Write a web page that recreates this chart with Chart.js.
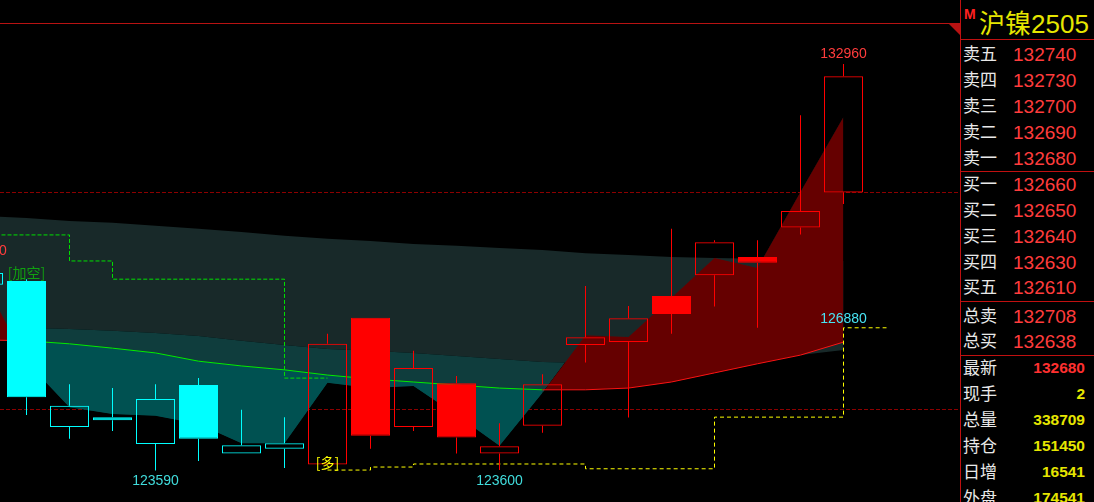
<!DOCTYPE html>
<html>
<head>
<meta charset="utf-8">
<script src="https://cdn.jsdelivr.net/npm/chart.js@4.4.1/dist/chart.umd.min.js"></script>
<style>
html, body { margin: 0; padding: 0; background: #000; }
#wrap { position: relative; width: 1094px; height: 502px; overflow: hidden; background: #000; }
#c { position: absolute; left: 0; top: 0; }
#panel { position: absolute; left: 960px; top: 0; width: 134px; height: 502px; border-left: 1px solid #c01010; box-sizing: border-box; }
.sep { position: absolute; left: 0; right: 0; height: 1px; background: #c01010; }
.row { position: absolute; left: 0; width: 133px; height: 26px; line-height: 26px; white-space: nowrap; }
.lab { position: absolute; left: 2px; top: -2px; color: #e8e8e8; font-size: 17px; font-family: "Noto Sans CJK SC", sans-serif; }
.px { position: absolute; left: 52px; top: 2px; color: #ff3c3c; font: 19px "Liberation Sans", sans-serif; }
.st { position: absolute; right: 9px; top: 3px; color: #e6e600; font: bold 15.5px "Liberation Sans", sans-serif; }
#mark { position: absolute; left: 3px; top: 6px; line-height: 14px; color: #ff2020; font: bold 14px "Liberation Sans", sans-serif; }
#title { position: absolute; left: 18px; top: 3px; line-height: 26px; color: #e6e600; font: 26px "Liberation Sans", "Noto Sans CJK SC", sans-serif; white-space: nowrap; }
</style>
</head>
<body>
<div id="wrap">
  <canvas id="c" width="960" height="502"></canvas>
  <div id="panel">
    <div id="mark">M</div>
    <div id="title"></div>
  </div>
</div>
<script>
// candles, oldest first (index 0 is cut off at the left edge)
const open  = [127870,127960,124590,124820,124200,125560,123980,124090,123730,127110,124590,125600,123980,124620,126480,126550,127610,128090,128510,129190,130000];
const high  = [128420,128000,125580,125490,125580,125720,124990,124820,126740,127110,126350,125770,124680,125810,127840,127380,129160,128900,128900,131780,132960];
const low   = [127650,124870,124320,124500,123590,123810,123980,123650,123730,124090,124500,123980,123600,124460,126080,124810,126740,127370,126880,129030,129730];
const close = [128140,125280,125080,124750,125240,124320,124170,124220,126510,124390,125950,124350,124150,125580,126660,127100,127200,128850,128380,129570,132680];

// indicator lines
const bandUpper = [129460,129410,129340,129300,129230,129160,129090,129000,128930,128880,128810,128770,128720,128670,128600,128560,128510,128490,128470,128440,128420];
const bandLower = [126900,126880,126850,126810,126760,126690,126580,126480,126390,126350,126300,126230,126160,126090,126070,126070,126090,126140,126180,126250,126370];
const trendLine = [127980,126090,125050,124890,124850,124660,124220,124220,125610,125490,125540,124870,124160,125380,126710,126670,127570,128490,128260,130010,131740];
const avgLine   = [126600,126580,126510,126410,126300,126110,126000,125910,125790,125700,125630,125560,125490,125450,125450,125490,125630,125840,126050,126250,126550];
const shortStop = [129020,129020,128420,128000,128000,128000,128000,125720,125720,null,null,null,null,null,null,null,null,null,null,null,null];
const longStop  = [null,null,null,null,null,null,null,null,123600,123670,123740,123740,123740,123740,123630,123630,123630,124820,124820,124820,126880,126880];
const refLevels = [130000, 125000];

const highMarks = [0, 20];
const lowMarks = [4, 12];
const signalIdx = [1, 8];
const signalText = ['[加空]', '[多]'];

// quote panel
const contract = '沪镍2505';
const quoteLabels = ['卖五','卖四','卖三','卖二','卖一','买一','买二','买三','买四','买五'];
const quotePrices = [132740,132730,132700,132690,132680,132660,132650,132640,132630,132610];
const totalLabels = ['总卖','总买'];
const totalValues = [132708,132638];
const statLabels = ['最新','现手','总量','持仓','日增','外盘'];
const statValues = [132680,2,338709,151450,16541,174541];

// ---- side panel ----
const panel = document.getElementById('panel');
document.getElementById('title').textContent = contract;
[39, 171, 301, 355].forEach(y => {
    const d = document.createElement('div');
    d.className = 'sep';
    d.style.top = y + 'px';
    panel.appendChild(d);
});
function addRow(center, label, value, cls, color) {
    const r = document.createElement('div');
    r.className = 'row';
    r.style.top = Math.round(center - 13) + 'px';
    r.innerHTML = `<span class="lab">${label}</span><span class="${cls}">${value}</span>`;
    if (color) r.lastChild.style.color = color;
    panel.appendChild(r);
}
quoteLabels.forEach((l, i) => {
    const c = i < 5 ? 55 + i * 25.9 : 185 + (i - 5) * 25.85;
    addRow(c, l, quotePrices[i], 'px');
});
totalLabels.forEach((l, i) => addRow(316.7 + i * 25.5, l, totalValues[i], 'px'));
statLabels.forEach((l, i) => addRow(368.7 + i * 26, l, statValues[i], 'st', i === 0 ? '#ff3030' : null));

// ---- chart ----
const isLong = i => longStop[i] !== null && longStop[i] !== undefined;
const candleColor = i => isLong(i) ? '#ff0000' : '#00ffff';
const pts = arr => arr.map((v, i) => ({x: i, y: v}));

const frame = {
    id: 'frame',
    beforeDatasetsDraw(chart) {
        const {ctx, scales: {y}} = chart;
        ctx.save();
        ctx.strokeStyle = '#8c0000';
        ctx.lineWidth = 1;
        ctx.setLineDash([4, 2]);
        refLevels.forEach(v => {
            const py = Math.round(y.getPixelForValue(v)) + 0.5;
            ctx.beginPath();
            ctx.moveTo(0, py);
            ctx.lineTo(chart.width, py);
            ctx.stroke();
        });
        ctx.restore();
    },
    afterDatasetsDraw(chart) {
        const {ctx, scales: {x, y}} = chart;
        ctx.save();
        // top border + corner mark
        ctx.fillStyle = '#b81212';
        ctx.fillRect(0, 23, 950, 1);
        ctx.beginPath();
        ctx.moveTo(948, 23); ctx.lineTo(960, 23); ctx.lineTo(960, 35); ctx.closePath();
        ctx.fill();

        ctx.font = '14px "Liberation Sans"';
        ctx.textAlign = 'center';
        ctx.textBaseline = 'bottom';
        ctx.fillStyle = '#ff3c3c';
        highMarks.forEach(i => ctx.fillText(String(high[i]), x.getPixelForValue(i), y.getPixelForValue(high[i]) - 3));
        ctx.textBaseline = 'top';
        ctx.fillStyle = '#40dcdc';
        lowMarks.forEach(i => ctx.fillText(String(low[i]), x.getPixelForValue(i), y.getPixelForValue(low[i]) + 4));
        // last value of the long stop
        const last = close.length - 1;
        ctx.textBaseline = 'bottom';
        ctx.fillStyle = '#48e4f4';
        ctx.fillText(String(longStop[last]), x.getPixelForValue(last), y.getPixelForValue(longStop[last]) - 2);

        // signals
        ctx.font = '14px "Noto Sans CJK SC"';
        signalIdx.forEach((i, k) => {
            const px = x.getPixelForValue(i);
            if (isLong(i)) {
                ctx.fillStyle = '#ffff00';
                ctx.textBaseline = 'middle';
                ctx.fillText(signalText[k], px, y.getPixelForValue(low[i]) - 2);
            } else {
                ctx.fillStyle = '#10a010';
                ctx.textBaseline = 'bottom';
                ctx.fillText(signalText[k], px, y.getPixelForValue(high[i]) + 1);
            }
        });
        ctx.restore();
    }
};

const lineBase = {type: 'line', pointRadius: 0, borderWidth: 0, borderColor: 'rgba(0,0,0,0)', tension: 0};

new Chart(document.getElementById('c'), {
    type: 'bar',
    data: {
        datasets: [
            {...lineBase, data: pts(bandUpper), fill: {target: 1, above: '#182929', below: '#182929'}, order: 50},
            {...lineBase, data: pts(bandLower), fill: {target: 2, above: '#0f3d3d', below: 'rgba(0,0,0,0)'}, order: 40},
            {...lineBase, data: pts(trendLine), fill: {target: 3, above: '#650000', below: '#005151'}, order: 30},
            {...lineBase, data: pts(avgLine), borderWidth: 1, fill: false, order: 20,
             segment: {borderColor: ctx => {
                 const a = ctx.p0DataIndex, b = ctx.p1DataIndex;
                 return trendLine[a] + trendLine[b] > avgLine[a] + avgLine[b] ? '#ff1010' : '#00ee00';
             }}},
            {...lineBase, data: pts(shortStop), borderWidth: 1, borderColor: '#00e000', borderDash: [4, 2], stepped: 'before', fill: false, order: 15},
            {...lineBase, data: pts(longStop), borderWidth: 1, borderColor: '#ffff00', borderDash: [4, 3], stepped: 'before', fill: false, order: 15},
            {type: 'bar', data: open.map((o, i) => ({x: i, y: [Math.max(o, close[i]), high[i]]})),
             backgroundColor: ctx => candleColor(ctx.dataIndex), borderWidth: 0,
             barThickness: 1, grouped: false, inflateAmount: 0, order: 2},
            {type: 'bar', data: open.map((o, i) => ({x: i, y: [low[i], Math.min(o, close[i])]})),
             backgroundColor: ctx => candleColor(ctx.dataIndex), borderWidth: 0,
             barThickness: 1, grouped: false, inflateAmount: 0, order: 2},
            {type: 'bar', data: open.map((o, i) => ({x: i, y: [o, close[i]]})),
             backgroundColor: ctx => close[ctx.dataIndex] > open[ctx.dataIndex] ? 'rgba(0,0,0,0)' : candleColor(ctx.dataIndex),
             borderColor: ctx => candleColor(ctx.dataIndex),
             borderWidth: 1, borderSkipped: false, barThickness: 39, grouped: false, inflateAmount: 0, order: 1}
        ]
    },
    options: {
        responsive: false,
        animation: false,
        devicePixelRatio: 1,
        layout: {padding: 0},
        plugins: {legend: {display: false}, tooltip: {enabled: false}},
        scales: {
            x: {type: 'linear', min: 16.5 / 43, max: 16.5 / 43 + 960 / 43, display: false, offset: false, bounds: 'data'},
            y: {type: 'linear', min: 122864, max: 134435, display: false, bounds: 'data', beginAtZero: false}
        }
    },
    plugins: [frame]
});
</script>
</body>
</html>
